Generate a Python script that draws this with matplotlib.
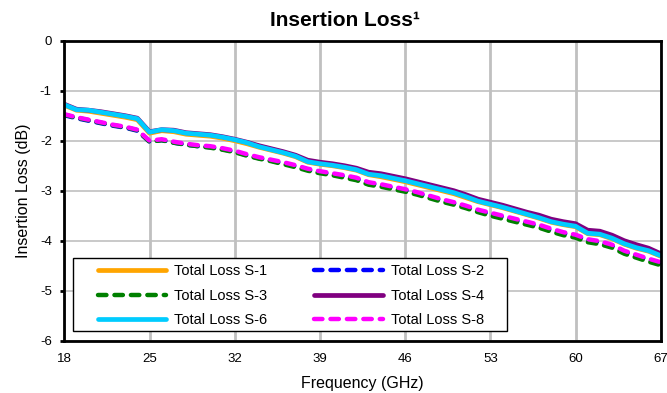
import matplotlib
matplotlib.use("Agg")
import matplotlib.pyplot as plt
import numpy as np
from matplotlib.patches import Rectangle

plt.rcParams['font.family'] = ['Liberation Sans', 'DejaVu Sans']
plt.rcParams['axes.unicode_minus'] = False

# frequency points (GHz)
freq = np.arange(18, 68, 1)

# insertion loss per sample (dB)
s1 = [-1.29, -1.39, -1.41, -1.45, -1.49, -1.53, -1.58, -1.85, -1.80, -1.82,
      -1.87, -1.89, -1.91, -1.95, -2.00, -2.06, -2.13, -2.19, -2.25, -2.32,
      -2.43, -2.47, -2.50, -2.54, -2.59, -2.68, -2.72, -2.77, -2.82, -2.88,
      -2.94, -3.00, -3.06, -3.14, -3.22, -3.28, -3.34, -3.41, -3.48, -3.55,
      -3.63, -3.68, -3.72, -3.86, -3.88, -3.96, -4.07, -4.15, -4.21, -4.31]
s2 = [-1.49, -1.55, -1.60, -1.65, -1.70, -1.74, -1.80, -2.02, -1.99, -2.04,
      -2.08, -2.11, -2.13, -2.17, -2.22, -2.29, -2.35, -2.40, -2.45, -2.51,
      -2.58, -2.63, -2.67, -2.71, -2.76, -2.85, -2.89, -2.94, -2.99, -3.05,
      -3.12, -3.19, -3.25, -3.32, -3.40, -3.46, -3.52, -3.59, -3.65, -3.71,
      -3.79, -3.85, -3.90, -3.99, -4.03, -4.10, -4.22, -4.30, -4.38, -4.45]
s3 = [-1.48, -1.54, -1.59, -1.64, -1.69, -1.73, -1.79, -2.02, -1.99, -2.04,
      -2.08, -2.11, -2.14, -2.18, -2.23, -2.30, -2.36, -2.41, -2.47, -2.53,
      -2.60, -2.65, -2.69, -2.74, -2.79, -2.88, -2.92, -2.97, -3.02, -3.08,
      -3.15, -3.22, -3.28, -3.35, -3.43, -3.50, -3.56, -3.62, -3.68, -3.74,
      -3.82, -3.89, -3.94, -4.03, -4.07, -4.14, -4.26, -4.34, -4.42, -4.49]
s4 = [-1.27, -1.37, -1.39, -1.42, -1.46, -1.50, -1.55, -1.82, -1.78, -1.79,
      -1.84, -1.86, -1.88, -1.92, -1.97, -2.03, -2.10, -2.16, -2.22, -2.29,
      -2.39, -2.43, -2.46, -2.50, -2.55, -2.63, -2.66, -2.71, -2.76, -2.82,
      -2.88, -2.94, -3.00, -3.08, -3.17, -3.23, -3.29, -3.36, -3.43, -3.49,
      -3.57, -3.62, -3.66, -3.79, -3.81, -3.89, -4.00, -4.08, -4.15, -4.26]
s6 = [-1.28, -1.38, -1.39, -1.43, -1.47, -1.51, -1.56, -1.83, -1.78, -1.80,
      -1.85, -1.87, -1.89, -1.93, -1.98, -2.04, -2.12, -2.18, -2.24, -2.31,
      -2.42, -2.46, -2.49, -2.53, -2.58, -2.67, -2.70, -2.75, -2.80, -2.86,
      -2.92, -2.98, -3.04, -3.12, -3.21, -3.27, -3.33, -3.40, -3.47, -3.54,
      -3.62, -3.67, -3.71, -3.85, -3.87, -3.95, -4.06, -4.14, -4.20, -4.30]
s8 = [-1.47, -1.53, -1.58, -1.63, -1.68, -1.72, -1.78, -2.00, -1.97, -2.02,
      -2.06, -2.09, -2.11, -2.15, -2.20, -2.27, -2.33, -2.38, -2.43, -2.49,
      -2.56, -2.61, -2.65, -2.69, -2.74, -2.83, -2.87, -2.92, -2.97, -3.03,
      -3.10, -3.17, -3.23, -3.30, -3.38, -3.44, -3.50, -3.56, -3.62, -3.68,
      -3.76, -3.83, -3.88, -3.97, -4.01, -4.08, -4.20, -4.28, -4.36, -4.43]

labels = ["Total Loss S-1", "Total Loss S-2", "Total Loss S-3",
          "Total Loss S-4", "Total Loss S-6", "Total Loss S-8"]
x_ticks = [18, 25, 32, 39, 46, 53, 60, 67]
y_ticks = [0, -1, -2, -3, -4, -5, -6]

series = [s1, s2, s3, s4, s6, s8]
colors = ['#FFA500', '#0000FF', '#008000', '#800080', '#00CCFF', '#FF00FF']
dashed = [False, True, True, False, False, True]

fig = plt.figure(figsize=(6.67, 3.93), dpi=100)
ax = fig.add_axes([0.0964, 0.1331, 0.8942, 0.7633])

lines = []
for vals, col, dsh, lab in zip(series, colors, dashed, labels):
    if dsh:
        ln, = ax.plot(freq, vals, color=col, lw=3.2, label=lab,
                      dashes=(1.9, 1.8), dash_capstyle='round', zorder=3)
    else:
        ln, = ax.plot(freq, vals, color=col, lw=3.4, label=lab,
                      solid_capstyle='round', zorder=3)
    lines.append(ln)

ax.set_xlim(18, 67)
ax.set_ylim(-6, 0)
ax.set_xticks(x_ticks)
ax.set_yticks(y_ticks)
ax.tick_params(axis='x', length=0, pad=9, labelsize=9.5)
ax.tick_params(axis='y', length=3, width=2, pad=6, labelsize=9.5, direction='out')

for xt in x_ticks:
    ax.axvline(xt, color='#C0C0C0', lw=2, zorder=1)
for yt in y_ticks:
    ax.axhline(yt, color='#C0C0C0', lw=1.2, zorder=1)

for sp in ax.spines.values():
    sp.set_linewidth(2)
    sp.set_color('black')
    sp.set_zorder(6)

ax.set_xlabel("Frequency (GHz)", fontsize=11.5, labelpad=8)
ax.set_ylabel("Insertion Loss (dB)", fontsize=11.5, labelpad=6)

fig.text(0.517, 0.934, "Insertion Loss\u00b9", fontsize=15, fontweight='bold',
         ha='center', va='baseline')

# legend box drawn separately so the padding matches
ax.add_patch(Rectangle((0.0151, 0.0333), 0.727, 0.2414, transform=ax.transAxes,
                       facecolor='white', edgecolor='black', lw=1, zorder=4))
order = [0, 2, 4, 1, 3, 5]
leg = ax.legend([lines[i] for i in order], [labels[i] for i in order],
                ncol=2, loc='center left', bbox_to_anchor=(0.056, 0.15),
                frameon=False, fontsize=10.5, handlelength=4.7,
                handletextpad=0.55, labelspacing=0.72, columnspacing=3.2,
                borderpad=0, borderaxespad=0)
leg.set_zorder(5)

fig.savefig("out.png", dpi=100)
